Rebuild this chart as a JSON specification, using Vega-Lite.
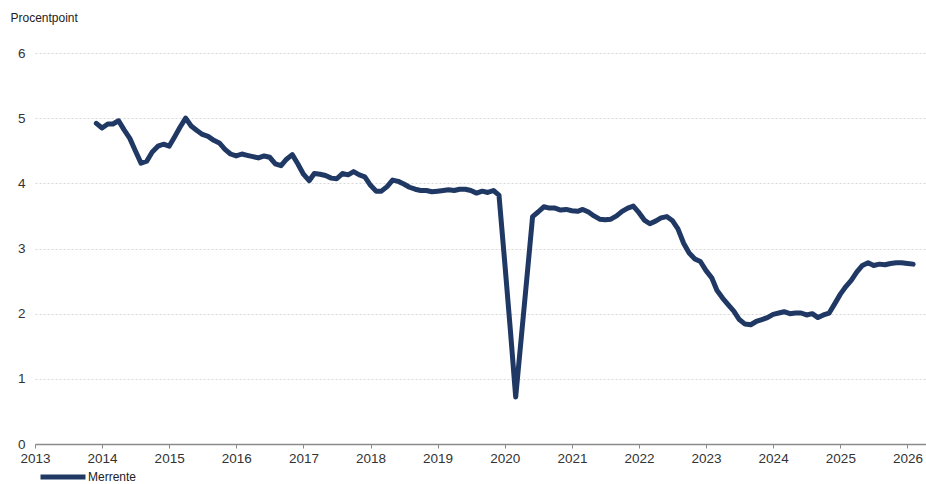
{
  "$schema": "https://vega.github.io/schema/vega-lite/v6.json",
  "width": 891,
  "height": 391,
  "autosize": {"type": "none"},
  "padding": {"left": 35, "top": 53, "right": 0, "bottom": 40},
  "background": "white",
  "config": {
    "view": {"stroke": null},
    "font": "Liberation Sans"
  },
  "data": {
    "values": [
      {"date": "2013-12-01", "value": 4.92, "serie": "Merrente"},
      {"date": "2014-01-01", "value": 4.85, "serie": "Merrente"},
      {"date": "2014-02-01", "value": 4.91, "serie": "Merrente"},
      {"date": "2014-03-01", "value": 4.91, "serie": "Merrente"},
      {"date": "2014-04-01", "value": 4.96, "serie": "Merrente"},
      {"date": "2014-05-01", "value": 4.82, "serie": "Merrente"},
      {"date": "2014-06-01", "value": 4.69, "serie": "Merrente"},
      {"date": "2014-07-01", "value": 4.50, "serie": "Merrente"},
      {"date": "2014-08-01", "value": 4.31, "serie": "Merrente"},
      {"date": "2014-09-01", "value": 4.34, "serie": "Merrente"},
      {"date": "2014-10-01", "value": 4.48, "serie": "Merrente"},
      {"date": "2014-11-01", "value": 4.57, "serie": "Merrente"},
      {"date": "2014-12-01", "value": 4.60, "serie": "Merrente"},
      {"date": "2015-01-01", "value": 4.57, "serie": "Merrente"},
      {"date": "2015-02-01", "value": 4.72, "serie": "Merrente"},
      {"date": "2015-03-01", "value": 4.86, "serie": "Merrente"},
      {"date": "2015-04-01", "value": 5.00, "serie": "Merrente"},
      {"date": "2015-05-01", "value": 4.88, "serie": "Merrente"},
      {"date": "2015-06-01", "value": 4.81, "serie": "Merrente"},
      {"date": "2015-07-01", "value": 4.75, "serie": "Merrente"},
      {"date": "2015-08-01", "value": 4.72, "serie": "Merrente"},
      {"date": "2015-09-01", "value": 4.66, "serie": "Merrente"},
      {"date": "2015-10-01", "value": 4.62, "serie": "Merrente"},
      {"date": "2015-11-01", "value": 4.52, "serie": "Merrente"},
      {"date": "2015-12-01", "value": 4.45, "serie": "Merrente"},
      {"date": "2016-01-01", "value": 4.42, "serie": "Merrente"},
      {"date": "2016-02-01", "value": 4.45, "serie": "Merrente"},
      {"date": "2016-03-01", "value": 4.43, "serie": "Merrente"},
      {"date": "2016-04-01", "value": 4.41, "serie": "Merrente"},
      {"date": "2016-05-01", "value": 4.39, "serie": "Merrente"},
      {"date": "2016-06-01", "value": 4.42, "serie": "Merrente"},
      {"date": "2016-07-01", "value": 4.40, "serie": "Merrente"},
      {"date": "2016-08-01", "value": 4.30, "serie": "Merrente"},
      {"date": "2016-09-01", "value": 4.27, "serie": "Merrente"},
      {"date": "2016-10-01", "value": 4.37, "serie": "Merrente"},
      {"date": "2016-11-01", "value": 4.44, "serie": "Merrente"},
      {"date": "2016-12-01", "value": 4.30, "serie": "Merrente"},
      {"date": "2017-01-01", "value": 4.14, "serie": "Merrente"},
      {"date": "2017-02-01", "value": 4.04, "serie": "Merrente"},
      {"date": "2017-03-01", "value": 4.15, "serie": "Merrente"},
      {"date": "2017-04-01", "value": 4.14, "serie": "Merrente"},
      {"date": "2017-05-01", "value": 4.12, "serie": "Merrente"},
      {"date": "2017-06-01", "value": 4.08, "serie": "Merrente"},
      {"date": "2017-07-01", "value": 4.07, "serie": "Merrente"},
      {"date": "2017-08-01", "value": 4.15, "serie": "Merrente"},
      {"date": "2017-09-01", "value": 4.13, "serie": "Merrente"},
      {"date": "2017-10-01", "value": 4.18, "serie": "Merrente"},
      {"date": "2017-11-01", "value": 4.13, "serie": "Merrente"},
      {"date": "2017-12-01", "value": 4.10, "serie": "Merrente"},
      {"date": "2018-01-01", "value": 3.97, "serie": "Merrente"},
      {"date": "2018-02-01", "value": 3.88, "serie": "Merrente"},
      {"date": "2018-03-01", "value": 3.88, "serie": "Merrente"},
      {"date": "2018-04-01", "value": 3.95, "serie": "Merrente"},
      {"date": "2018-05-01", "value": 4.05, "serie": "Merrente"},
      {"date": "2018-06-01", "value": 4.03, "serie": "Merrente"},
      {"date": "2018-07-01", "value": 3.99, "serie": "Merrente"},
      {"date": "2018-08-01", "value": 3.94, "serie": "Merrente"},
      {"date": "2018-09-01", "value": 3.91, "serie": "Merrente"},
      {"date": "2018-10-01", "value": 3.89, "serie": "Merrente"},
      {"date": "2018-11-01", "value": 3.89, "serie": "Merrente"},
      {"date": "2018-12-01", "value": 3.87, "serie": "Merrente"},
      {"date": "2019-01-01", "value": 3.88, "serie": "Merrente"},
      {"date": "2019-02-01", "value": 3.89, "serie": "Merrente"},
      {"date": "2019-03-01", "value": 3.90, "serie": "Merrente"},
      {"date": "2019-04-01", "value": 3.89, "serie": "Merrente"},
      {"date": "2019-05-01", "value": 3.91, "serie": "Merrente"},
      {"date": "2019-06-01", "value": 3.91, "serie": "Merrente"},
      {"date": "2019-07-01", "value": 3.89, "serie": "Merrente"},
      {"date": "2019-08-01", "value": 3.85, "serie": "Merrente"},
      {"date": "2019-09-01", "value": 3.88, "serie": "Merrente"},
      {"date": "2019-10-01", "value": 3.86, "serie": "Merrente"},
      {"date": "2019-11-01", "value": 3.89, "serie": "Merrente"},
      {"date": "2019-12-01", "value": 3.82, "serie": "Merrente"},
      {"date": "2020-01-01", "value": 2.80, "serie": "Merrente"},
      {"date": "2020-02-01", "value": 1.75, "serie": "Merrente"},
      {"date": "2020-03-01", "value": 0.72, "serie": "Merrente"},
      {"date": "2020-04-01", "value": 1.65, "serie": "Merrente"},
      {"date": "2020-05-01", "value": 2.55, "serie": "Merrente"},
      {"date": "2020-06-01", "value": 3.49, "serie": "Merrente"},
      {"date": "2020-07-01", "value": 3.56, "serie": "Merrente"},
      {"date": "2020-08-01", "value": 3.64, "serie": "Merrente"},
      {"date": "2020-09-01", "value": 3.62, "serie": "Merrente"},
      {"date": "2020-10-01", "value": 3.62, "serie": "Merrente"},
      {"date": "2020-11-01", "value": 3.59, "serie": "Merrente"},
      {"date": "2020-12-01", "value": 3.60, "serie": "Merrente"},
      {"date": "2021-01-01", "value": 3.58, "serie": "Merrente"},
      {"date": "2021-02-01", "value": 3.57, "serie": "Merrente"},
      {"date": "2021-03-01", "value": 3.60, "serie": "Merrente"},
      {"date": "2021-04-01", "value": 3.56, "serie": "Merrente"},
      {"date": "2021-05-01", "value": 3.50, "serie": "Merrente"},
      {"date": "2021-06-01", "value": 3.45, "serie": "Merrente"},
      {"date": "2021-07-01", "value": 3.44, "serie": "Merrente"},
      {"date": "2021-08-01", "value": 3.45, "serie": "Merrente"},
      {"date": "2021-09-01", "value": 3.50, "serie": "Merrente"},
      {"date": "2021-10-01", "value": 3.57, "serie": "Merrente"},
      {"date": "2021-11-01", "value": 3.62, "serie": "Merrente"},
      {"date": "2021-12-01", "value": 3.65, "serie": "Merrente"},
      {"date": "2022-01-01", "value": 3.55, "serie": "Merrente"},
      {"date": "2022-02-01", "value": 3.43, "serie": "Merrente"},
      {"date": "2022-03-01", "value": 3.38, "serie": "Merrente"},
      {"date": "2022-04-01", "value": 3.42, "serie": "Merrente"},
      {"date": "2022-05-01", "value": 3.47, "serie": "Merrente"},
      {"date": "2022-06-01", "value": 3.49, "serie": "Merrente"},
      {"date": "2022-07-01", "value": 3.43, "serie": "Merrente"},
      {"date": "2022-08-01", "value": 3.30, "serie": "Merrente"},
      {"date": "2022-09-01", "value": 3.08, "serie": "Merrente"},
      {"date": "2022-10-01", "value": 2.93, "serie": "Merrente"},
      {"date": "2022-11-01", "value": 2.84, "serie": "Merrente"},
      {"date": "2022-12-01", "value": 2.80, "serie": "Merrente"},
      {"date": "2023-01-01", "value": 2.66, "serie": "Merrente"},
      {"date": "2023-02-01", "value": 2.55, "serie": "Merrente"},
      {"date": "2023-03-01", "value": 2.36, "serie": "Merrente"},
      {"date": "2023-04-01", "value": 2.24, "serie": "Merrente"},
      {"date": "2023-05-01", "value": 2.14, "serie": "Merrente"},
      {"date": "2023-06-01", "value": 2.04, "serie": "Merrente"},
      {"date": "2023-07-01", "value": 1.91, "serie": "Merrente"},
      {"date": "2023-08-01", "value": 1.84, "serie": "Merrente"},
      {"date": "2023-09-01", "value": 1.83, "serie": "Merrente"},
      {"date": "2023-10-01", "value": 1.88, "serie": "Merrente"},
      {"date": "2023-11-01", "value": 1.91, "serie": "Merrente"},
      {"date": "2023-12-01", "value": 1.94, "serie": "Merrente"},
      {"date": "2024-01-01", "value": 1.99, "serie": "Merrente"},
      {"date": "2024-02-01", "value": 2.01, "serie": "Merrente"},
      {"date": "2024-03-01", "value": 2.03, "serie": "Merrente"},
      {"date": "2024-04-01", "value": 2.00, "serie": "Merrente"},
      {"date": "2024-05-01", "value": 2.01, "serie": "Merrente"},
      {"date": "2024-06-01", "value": 2.01, "serie": "Merrente"},
      {"date": "2024-07-01", "value": 1.98, "serie": "Merrente"},
      {"date": "2024-08-01", "value": 2.00, "serie": "Merrente"},
      {"date": "2024-09-01", "value": 1.94, "serie": "Merrente"},
      {"date": "2024-10-01", "value": 1.98, "serie": "Merrente"},
      {"date": "2024-11-01", "value": 2.01, "serie": "Merrente"},
      {"date": "2024-12-01", "value": 2.15, "serie": "Merrente"},
      {"date": "2025-01-01", "value": 2.30, "serie": "Merrente"},
      {"date": "2025-02-01", "value": 2.42, "serie": "Merrente"},
      {"date": "2025-03-01", "value": 2.51, "serie": "Merrente"},
      {"date": "2025-04-01", "value": 2.64, "serie": "Merrente"},
      {"date": "2025-05-01", "value": 2.74, "serie": "Merrente"},
      {"date": "2025-06-01", "value": 2.78, "serie": "Merrente"},
      {"date": "2025-07-01", "value": 2.74, "serie": "Merrente"},
      {"date": "2025-08-01", "value": 2.76, "serie": "Merrente"},
      {"date": "2025-09-01", "value": 2.75, "serie": "Merrente"},
      {"date": "2025-10-01", "value": 2.77, "serie": "Merrente"},
      {"date": "2025-11-01", "value": 2.78, "serie": "Merrente"},
      {"date": "2025-12-01", "value": 2.78, "serie": "Merrente"},
      {"date": "2026-01-01", "value": 2.77, "serie": "Merrente"},
      {"date": "2026-02-01", "value": 2.76, "serie": "Merrente"}
    ]
  },
  "mark": {"type": "line", "strokeWidth": 5, "strokeJoin": "round", "strokeCap": "round"},
  "encoding": {
    "x": {
      "field": "date",
      "type": "temporal",
      "scale": {"domain": [{"year": 2013, "month": 1, "date": 1}, {"year": 2026, "month": 4, "date": 12}], "nice": false},
      "axis": {
        "title": null,
        "format": "%Y",
        "tickCount": {"interval": "year", "step": 1},
        "grid": false,
        "domainColor": "#8a8a8a",
        "domainWidth": 1.5,
        "tickColor": "#8a8a8a",
        "tickSize": 4,
        "labelFontSize": 13.5,
        "labelColor": "#333333",
        "labelPadding": 3,
        "labelFlush": false,
        "labelOverlap": false
      }
    },
    "y": {
      "field": "value",
      "type": "quantitative",
      "scale": {"domain": [0, 6], "nice": false},
      "axis": {
        "values": [0, 1, 2, 3, 4, 5, 6],
        "title": "Procentpoint",
        "titleAngle": 0,
        "titleAlign": "left",
        "titleBaseline": "middle",
        "titleX": -25,
        "titleY": -36,
        "titleFontSize": 12,
        "titleFontWeight": "normal",
        "titleColor": "#222222",
        "domain": false,
        "ticks": false,
        "labelFontSize": 13.5,
        "labelColor": "#333333",
        "labelPadding": 10,
        "gridColor": "#d8d8d8",
        "gridDash": [2, 2],
        "gridWidth": 1
      }
    },
    "color": {
      "field": "serie",
      "type": "nominal",
      "scale": {"range": ["#203864"]},
      "legend": {
        "title": null,
        "orient": "none",
        "legendX": 3,
        "legendY": 399,
        "symbolType": "stroke",
        "symbolSize": 2025,
        "symbolStrokeWidth": 5,
        "labelFontSize": 12,
        "labelBaseline": "middle",
        "labelColor": "#222222",
        "labelOffset": 0
      }
    }
  }
}
